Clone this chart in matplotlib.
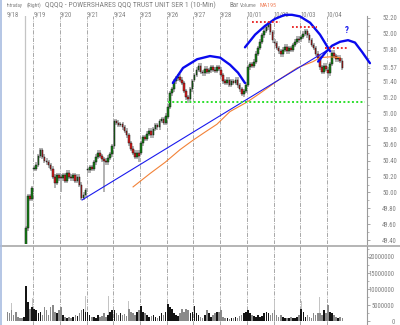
import numpy as np
import matplotlib.pyplot as plt
from matplotlib import font_manager as fm
from matplotlib.textpath import TextPath
from matplotlib.ticker import FuncFormatter, MultipleLocator

# narrow font if one is there, else plain Liberation Sans
installed = {f.name for f in fm.fontManager.ttflist}
FAMILY = next(f for f in ['Liberation Sans Narrow', 'Roboto Condensed', 'Liberation Sans', 'DejaVu Sans']
              if f in installed)
plt.rcParams['font.family'] = [FAMILY, 'DejaVu Sans']


def px_width(s, size):
    tp = TextPath((0, 0), s, size=size, prop=fm.FontProperties(family=FAMILY))
    return tp.get_extents().width * 100 / 72


# ---- data (30-min bars, 13 per session) ----
days = ['9/18', '9/19', '9/20', '9/21', '9/24', '9/25', '9/26',
        '9/27', '9/28', '10/01', '10/02', '10/03', '10/04']
BARS_PER_DAY = 13
first_bar_0918 = 8          # earlier 9/18 prices sit below the chart

c_0918 = [49.25, 49.55, 49.95, 49.92, 50.05]
c_0919 = [50.30, 50.35, 50.46, 50.53, 50.45, 50.40, 50.38, 50.34, 50.30, 50.20, 50.12, 50.22, 50.18]
c_0920 = [50.18, 50.22, 50.15, 50.25, 50.20, 50.18, 50.22, 50.15, 50.20, 50.10, 49.93, 49.97, 50.03]
c_0921 = [50.28, 50.32, 50.30, 50.38, 50.45, 50.50, 50.46, 50.42, 50.40, 50.38, 50.44, 50.48, 50.58]
c_0924 = [50.90, 50.88, 50.85, 50.86, 50.82, 50.78, 50.72, 50.62, 50.55, 50.50, 50.45, 50.50, 50.46]
c_0925 = [50.62, 50.70, 50.68, 50.74, 50.78, 50.72, 50.80, 50.85, 50.82, 50.90, 50.92, 50.88, 50.97]
c_0926 = [51.08, 51.25, 51.30, 51.40, 51.44, 51.46, 51.42, 51.38, 51.28, 51.20, 51.18, 51.30, 51.40]
c_0927 = [51.48, 51.55, 51.60, 51.52, 51.50, 51.56, 51.52, 51.54, 51.58, 51.55, 51.53, 51.58, 51.56]
c_0928 = [51.48, 51.40, 51.38, 51.42, 51.36, 51.40, 51.38, 51.42, 51.35, 51.30, 51.24, 51.28, 51.36]
c_1001 = [51.58, 51.62, 51.60, 51.65, 51.75, 51.82, 51.90, 51.98, 52.04, 52.08, 52.12, 52.02, 51.92]
c_1002 = [51.88, 51.82, 51.78, 51.74, 51.80, 51.84, 51.78, 51.82, 51.80, 51.86, 51.90, 51.94, 51.92]
c_1003 = [51.96, 52.00, 52.03, 51.98, 51.92, 51.86, 51.82, 51.75, 51.70, 51.58, 51.52, 51.60, 51.56]
c_1004 = [51.50, 51.62, 51.76, 51.72, 51.68, 51.70, 51.66, 51.57]
closes = [c_0918, c_0919, c_0920, c_0921, c_0924, c_0925, c_0926,
          c_0927, c_0928, c_1001, c_1002, c_1003, c_1004]
day_opens = [49.20, 50.30, 50.20, 50.28, 50.58, 50.50, 50.95,
             51.42, 51.55, 51.36, 51.90, 51.93, 51.55]
spike_lows = {(1, 10): 50.05, (2, 0): 50.00, (2, 10): 49.90, (3, 8): 50.00,
              (4, 12): 50.38, (6, 10): 51.13, (8, 11): 51.20, (12, 0): 51.44}

# volume, millions
v_0918 = [3.0, 2.5, 3.5, 2.0, 2.8, 1.5, 1.2, 1.0, 1.5, 10.9, 6.0, 4.0, 4.5]
v_0919 = [4.0, 3.5, 2.5, 3.0, 2.0, 4.5, 3.5, 2.0, 4.5, 5.0, 3.0, 2.5, 3.5]
v_0920 = [4.5, 2.0, 1.5, 1.2, 1.5, 1.0, 1.5, 2.0, 1.8, 2.5, 3.5, 4.0, 3.0]
v_0921 = [3.0, 2.0, 1.5, 1.5, 1.2, 2.0, 1.5, 1.8, 2.5, 1.5, 2.0, 3.0, 3.5]
v_0924 = [3.5, 2.5, 2.0, 2.5, 2.0, 2.2, 1.8, 4.0, 3.0, 2.5, 2.0, 3.0, 3.5]
v_0925 = [4.7, 3.0, 2.5, 2.0, 1.5, 1.8, 2.0, 1.5, 1.2, 1.8, 2.5, 2.0, 3.0]
v_0926 = [5.5, 4.5, 4.0, 2.5, 2.0, 1.8, 2.5, 4.0, 3.0, 4.0, 3.5, 2.5, 3.0]
v_0927 = [4.7, 2.5, 2.0, 1.5, 1.2, 2.0, 3.5, 2.5, 1.5, 2.0, 2.5, 3.0, 3.0]
v_0928 = [3.6, 1.5, 1.2, 1.0, 0.8, 1.0, 1.2, 1.5, 1.2, 1.8, 2.0, 2.5, 3.0]
v_1001 = [3.6, 2.5, 2.0, 1.8, 1.5, 2.0, 1.5, 1.8, 2.5, 3.0, 2.5, 2.0, 2.5]
v_1002 = [3.5, 2.0, 1.5, 2.0, 1.5, 1.2, 1.0, 1.2, 1.5, 1.0, 1.2, 1.5, 2.0]
v_1003 = [4.0, 3.0, 1.5, 2.0, 1.5, 1.2, 2.5, 2.0, 2.5, 2.5, 2.0, 3.5, 2.5]
v_1004 = [5.0, 3.0, 2.5, 2.0, 1.5, 1.2, 1.5, 1.0]
volumes = [v_0918, v_0919, v_0920, v_0921, v_0924, v_0925, v_0926,
           v_0927, v_0928, v_1001, v_1002, v_1003, v_1004]
vol_spikes = {(0, 2): 5.7, (0, 9): 21.8, (0, 12): 7.3, (2, 12): 8.0, (3, 10): 7.8,
              (4, 7): 6.2, (6, 0): 5.7, (10, 0): 6.7, (10, 9): 8.0, (11, 0): 6.3,
              (11, 9): 7.7, (12, 0): 8.4, (12, 1): 5.5}

# moving average 195 (day units)
ma_t = [4.74, 5.38, 5.94, 6.50, 6.99, 7.43, 7.88, 8.37, 9.01, 9.49, 10.24, 10.88, 11.48, 11.74, 12.12, 12.49]
ma_v = [50.07, 50.24, 50.38, 50.54, 50.66, 50.76, 50.86, 51.02, 51.14, 51.25, 51.43, 51.57, 51.65, 51.70, 51.71, 51.70]

# hand-drawn annotations
trend_t = [2.83, 12.12]
trend_v = [49.905, 51.815]
ls_t = [6.23, 6.61, 7.14, 7.62, 8.00, 8.37, 8.67, 8.93]
ls_v = [51.38, 51.57, 51.68, 51.72, 51.70, 51.61, 51.51, 51.38]
head_t = [8.93, 9.31, 9.68, 10.06, 10.43, 10.69, 10.99, 11.37, 11.74, 12.12]
head_v = [51.83, 51.99, 52.10, 52.19, 52.24, 52.24, 52.22, 52.14, 51.99, 51.78]
rs_t = [11.67, 11.93, 12.19, 12.49, 12.79, 13.05, 13.32, 13.61]
rs_v = [51.65, 51.76, 51.85, 51.90, 51.92, 51.89, 51.77, 51.63]
red_levels = [(9.20, 10.24, 52.15), (10.69, 11.63, 52.09), (11.93, 12.75, 51.82)]
neckline = (6.05, 13.43, 51.14)
question_at = (12.75, 52.04)
event_time = 0.69

price_ticks = [49.4, 49.6, 49.8, 50.0, 50.2, 50.4, 50.6, 50.8, 51.0, 51.2, 51.4, 51.57, 51.8, 52.0, 52.2]
vol_ticks = [0, 5, 10, 15, 20]

# header pieces: (left x px, text, colour, width px in the reference)
header = [(7, 'Intraday', '#808080', 16), (27, '(Right)', '#808080', 15),
          (45, 'QQQQ - POWERSHARES QQQ TRUST UNIT SER 1 (10-Min)', '#808080', 181),
          (229, 'Bar', '#808080', 9), (240, 'Volume', '#808080', 17),
          (259, 'MA195', '#f0805a', 17)]

# ---- build bars ----
t_bar, o_bar, c_bar, key_bar = [], [], [], []
for d, cl in enumerate(closes):
    start = first_bar_0918 if d == 0 else 0
    prev = day_opens[d]
    for i, c in enumerate(cl):
        t_bar.append(d + (start + i + 0.5) / BARS_PER_DAY)
        o_bar.append(prev)
        c_bar.append(c)
        key_bar.append((d, start + i))
        prev = c
t_bar = np.array(t_bar)
o_bar = np.array(o_bar)
c_bar = np.array(c_bar)
up = c_bar >= o_bar
hi = np.maximum(o_bar, c_bar) + 0.03
lo = np.minimum(o_bar, c_bar) - 0.03
for k, key in enumerate(key_bar):
    if key in spike_lows:
        lo[k] = spike_lows[key]
up_by_key = dict(zip(key_bar, up))

# font sizes fitted to the reference text widths
TICK_FS = 10 * 14 / px_width('52.20', 10)

# ---- figure ----
W, H = 400, 325
fig = plt.figure(figsize=(W / 100, H / 100), dpi=100)
ax = fig.add_axes([0, (H - 244) / H, 367 / W, 228 / H])
axv = fig.add_axes([0, 0, 367 / W, 79 / H])
XMIN, XMAX = -0.243, 13.50

grid_kw = dict(color='#9a9a9a', lw=0.6, ls=(0, (5, 1.5, 1, 1.5)), zorder=0)
for a in (ax, axv):
    a.set_xlim(XMIN, XMAX)
    for d in range(1, len(days)):
        a.axvline(d, **grid_kw)
    for s in ('left', 'top', 'bottom'):
        a.spines[s].set_visible(False)
    a.spines['right'].set_color('#9a9a9a')
    a.spines['right'].set_linewidth(0.8)
    a.patch.set_alpha(0)

ax.set_ylim(49.35, 52.225)
ax.axvline(event_time, color='#c4c4c4', lw=0.9, zorder=0)

# candles
ax.vlines(t_bar, lo, hi, color='#acacac', lw=1.3, zorder=2)
ax.bar(t_bar, np.maximum(np.abs(c_bar - o_bar), 0.014), bottom=np.minimum(o_bar, c_bar),
       width=0.062, color=np.where(up, '#168616', '#e41c1c'),
       edgecolor='#141414', linewidth=0.35, zorder=3)

# overlays
ax.plot(ma_t, ma_v, color='#f28238', lw=0.8, zorder=4)
ax.plot(trend_t, trend_v, color='#1a1aee', lw=0.8, zorder=4)
for xs, ys in ((ls_t, ls_v), (head_t, head_v), (rs_t, rs_v)):
    ax.plot(xs, ys, color='#0a0aee', lw=1.7, solid_capstyle='round', zorder=5, clip_on=False)
for x0, x1, y in red_levels:
    ax.plot([x0, x1], [y, y], color='#e82020', lw=1.3, ls=(0, (1, 1.2)), zorder=5)
ax.plot([neckline[0], neckline[1]], [neckline[2]] * 2, color='#2ee02e', lw=1.4,
        ls=(0, (1, 1.2)), zorder=5)
ax.text(question_at[0], question_at[1], '?', color='#1a1aee', fontsize=6.5,
        fontweight='bold', ha='center', va='center')

# price axis (right)
ax.yaxis.tick_right()
ax.set_yticks(price_ticks)
ax.yaxis.set_minor_locator(MultipleLocator(0.1))
ax.yaxis.set_major_formatter(FuncFormatter(lambda v, p: f'{v:.2f}'))
ax.tick_params(axis='y', which='major', length=2, width=0.6, color='#9a9a9a',
               labelsize=TICK_FS, labelcolor='#808080', pad=19.5)
ax.tick_params(axis='y', which='minor', length=1.2, width=0.5, color='#9a9a9a')
for lbl in ax.get_yticklabels():
    lbl.set_ha('right')

# date labels on top
ax.xaxis.tick_top()
ax.set_xticks(range(len(days)))
ax.set_xticklabels(days, ha='left')
ax.tick_params(axis='x', length=0, pad=-1.5, labelsize=TICK_FS, labelcolor='#808080')

# volume
vt, vv, vc = [], [], []
for d, vl in enumerate(volumes):
    for i, v in enumerate(vl):
        vt.append(d + (i + 0.5) / BARS_PER_DAY)
        vv.append(v)
        vc.append('#141414' if up_by_key.get((d, i), False) else '#8a8a8a')
st = [d + (i + 0.5) / BARS_PER_DAY for d, i in vol_spikes]
axv.bar(st, list(vol_spikes.values()), width=0.03, color='#c4c4c4', lw=0, zorder=1)
axv.bar(vt, vv, width=0.06, color=vc, lw=0, zorder=2)
axv.set_ylim(-1.09, 23.4)
axv.yaxis.tick_right()
axv.set_yticks(vol_ticks)
axv.yaxis.set_minor_locator(MultipleLocator(2.5))
axv.yaxis.set_major_formatter(FuncFormatter(lambda v, p: f'{int(round(v * 1e6))}'))
axv.tick_params(axis='y', which='major', length=2, width=0.6, color='#9a9a9a',
                labelsize=TICK_FS, labelcolor='#808080', pad=18)
axv.tick_params(axis='y', which='minor', length=1.2, width=0.5, color='#9a9a9a')
for lbl in axv.get_yticklabels():
    lbl.set_ha('right')
axv.set_xticks([])

# header line, each piece fitted to its width in the reference
head_y = 1 - 5.5 / H
for x, s, col, w in header:
    fs = min(10 * w / px_width(s, 10) * 0.96, TICK_FS * 1.15)
    fig.text(x / W, head_y, s, fontsize=fs, color=col, ha='left', va='center')

# panel separator and window borders
fig.add_artist(plt.Line2D([0, 1], [1 - 245.5 / H] * 2, color='#a8a8a8', lw=1.2))
fig.add_artist(plt.Line2D([0.5 / W] * 2, [0, 1], color='#a8bce0', lw=1.2))

fig.savefig('out.png', dpi=100)
